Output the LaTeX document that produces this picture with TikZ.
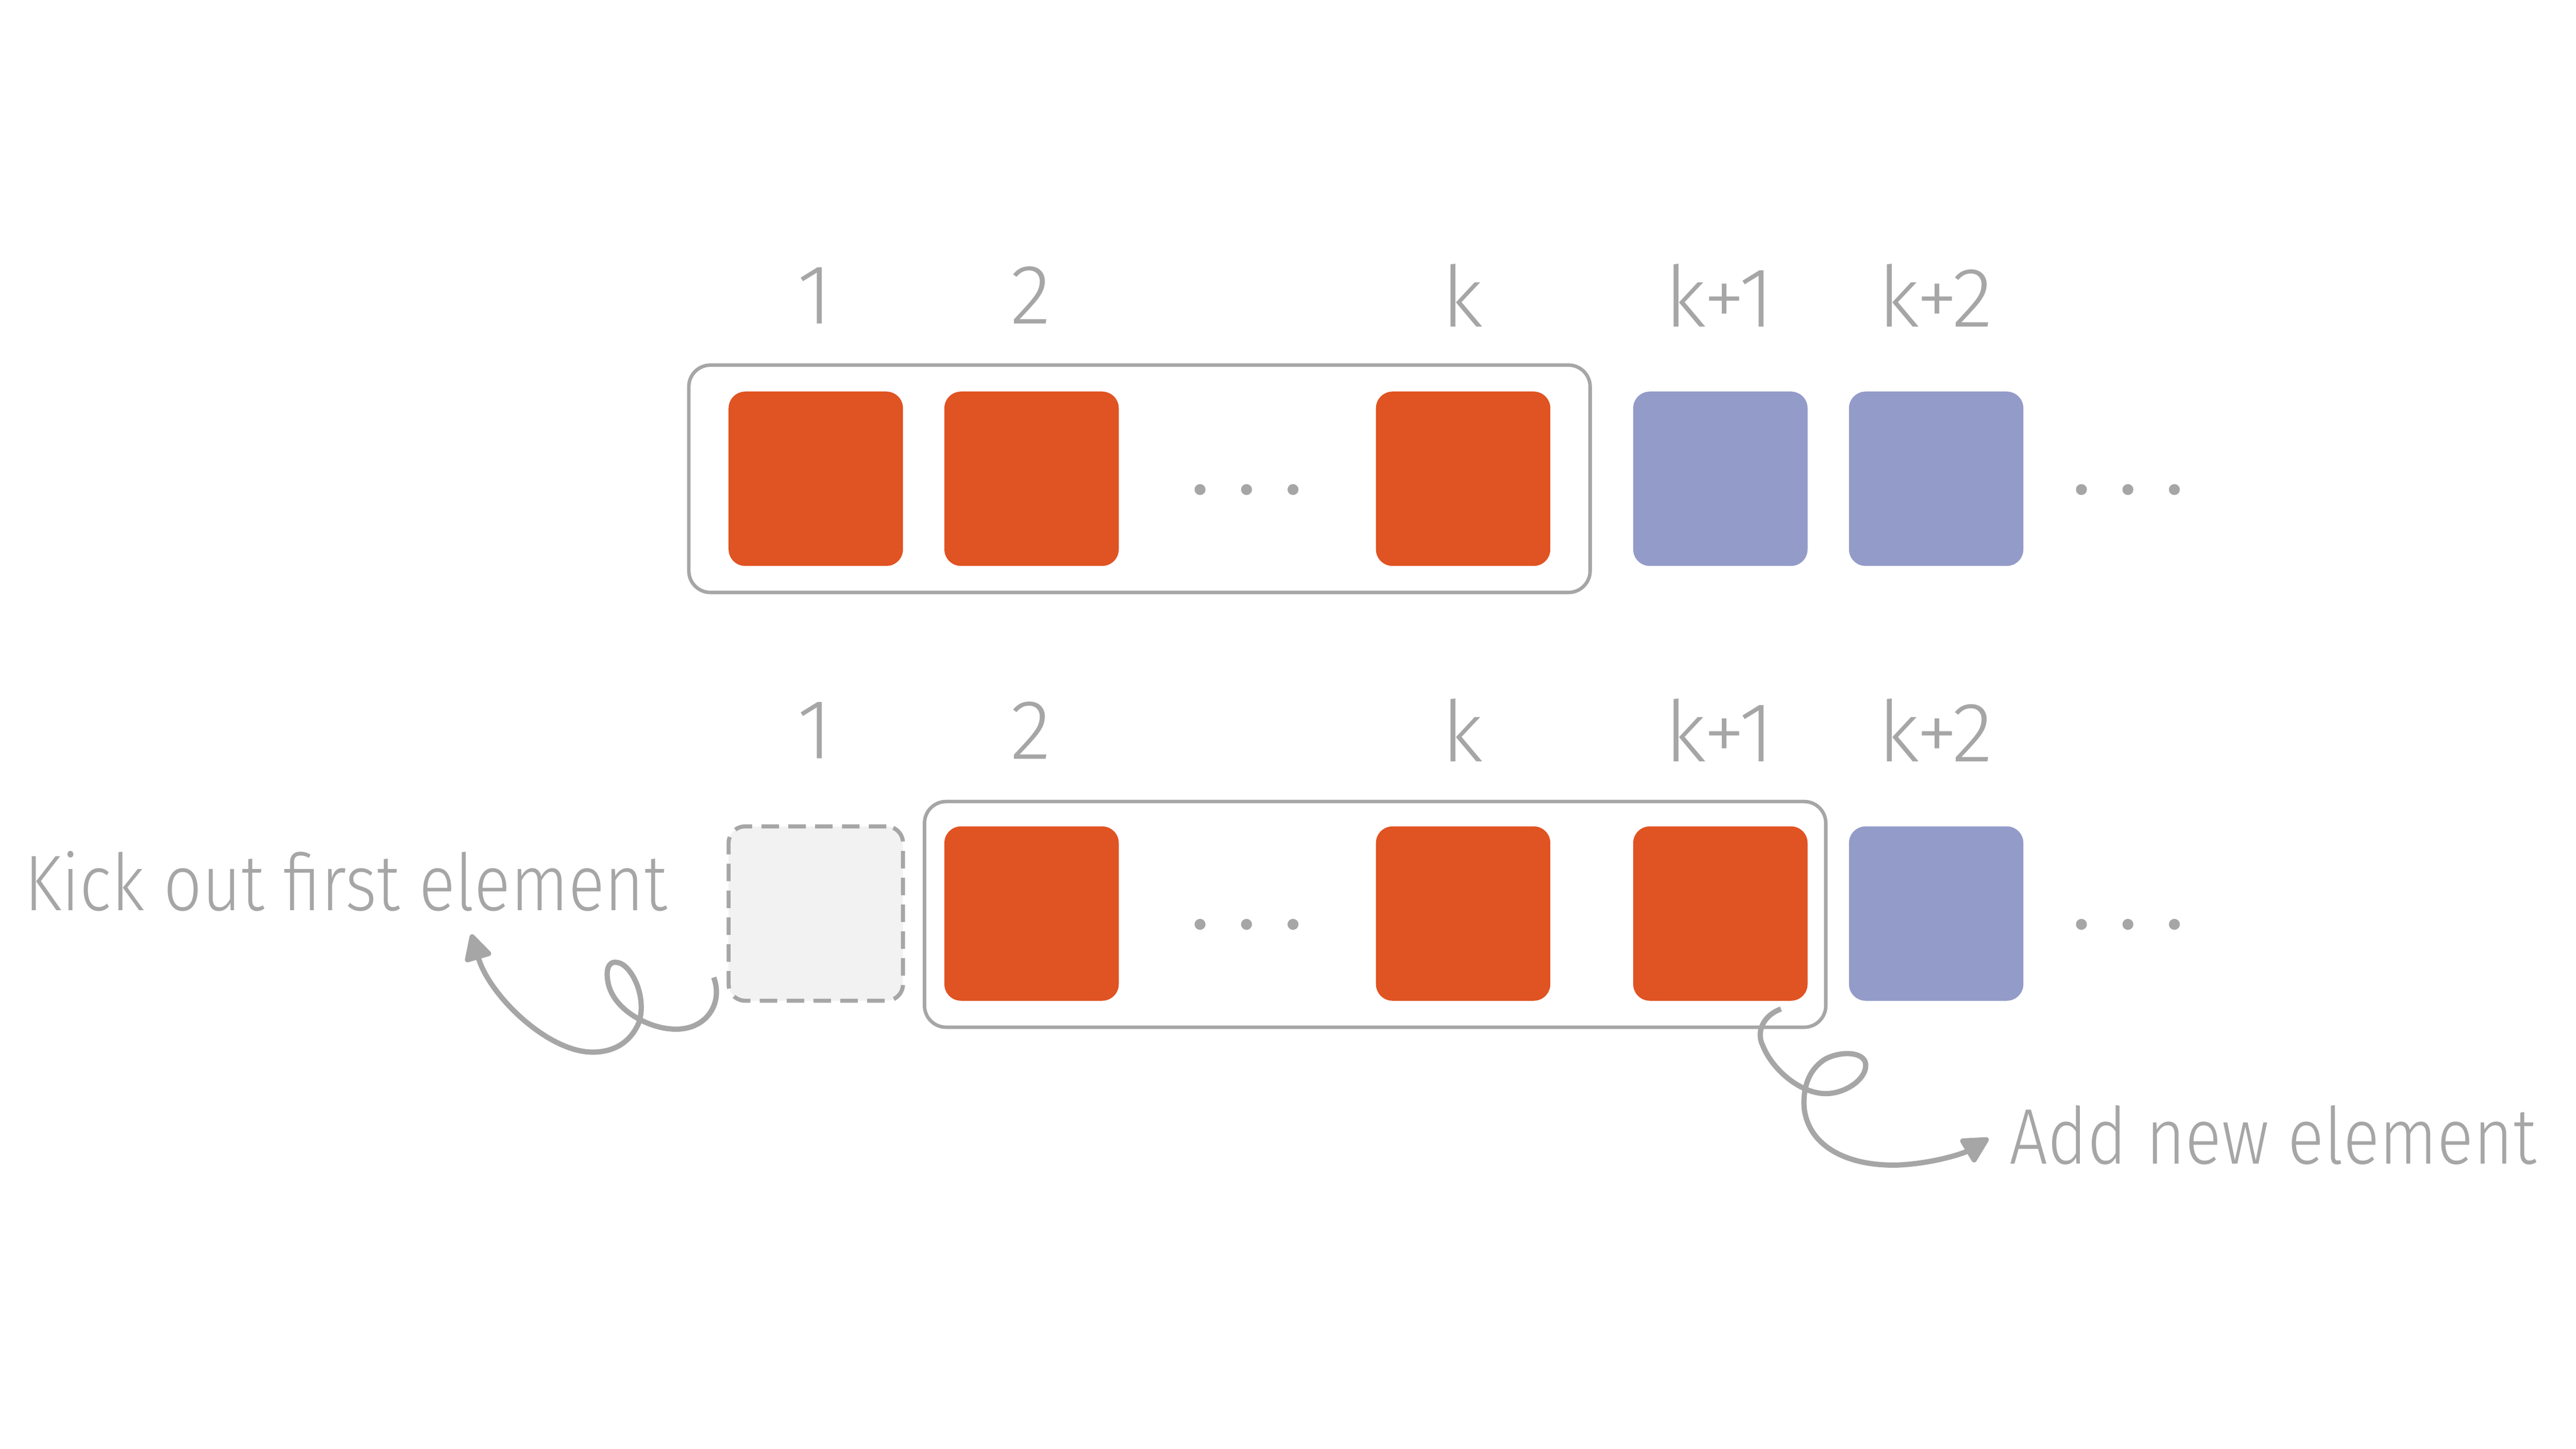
\documentclass[tikz,border=0pt]{standalone}
\usepackage{fontspec}
\setmainfont{Fira Sans Light}
\usetikzlibrary{arrows.meta}
\definecolor{org}{HTML}{E05322}
\definecolor{blu}{HTML}{939BC9}
\definecolor{gr}{HTML}{A6A6A6}
\definecolor{ghost}{HTML}{F2F2F2}
\begin{document}
\begin{tikzpicture}[x=0.01cm,y=-0.01cm,
  sq/.style={minimum width=1.05cm,minimum height=1.05cm,rounded corners=0.1cm,inner sep=0pt},
  os/.style={sq,fill=org},
  bs/.style={sq,fill=blu},
  gs/.style={sq,fill=ghost,draw=gr,dashed,line width=0.7pt,dash pattern=on 3pt off 1.6pt},
  lab/.style={text=gr,font=\fontsize{14.5}{15}\selectfont},
  txt/.style={text=gr,font=\fontsize{13.5}{14}\selectfont,inner sep=0pt,xscale=0.86},
  frm/.style={draw=gr,line width=0.6pt,rounded corners=0.13cm},
  dot/.style={fill=gr,draw=none},
  curl/.style={draw=gr,line width=0.9pt,-{Triangle[length=5pt,width=5pt,round]}}]
\useasboundingbox (0,0) rectangle (1552,873);
% top row
\draw[frm] (415,220) rectangle (958,357);
\node[os] (a1) at (491.5,288.5) {};
\node[os] (a2) at (621.5,288.5) {};
\node[os] (ak) at (881.5,288.5) {};
\node[bs] (a3) at (1036.5,288.5) {};
\node[bs] (a4) at (1166.5,288.5) {};
\foreach \x in {723,751,779,1254,1282,1310} \fill[dot] (\x,295) circle (3.3);
\node[lab] (l1) at (491,178) {1};
\node[lab] (l2) at (621,178) {2};
\node[lab] (lk) at (881,178) {k};
\node[lab] (l3) at (1036,178) {k+1};
\node[lab] (l4) at (1166,178) {k+2};
% bottom row
\draw[frm] (557,483) rectangle (1100,619);
\node[gs] (b1) at (491.5,550.5) {};
\node[os] (b2) at (621.5,550.5) {};
\node[os] (bk) at (881.5,550.5) {};
\node[os] (b3) at (1036.5,550.5) {};
\node[bs] (b4) at (1166.5,550.5) {};
\foreach \x in {723,751,779,1254,1282,1310} \fill[dot] (\x,557) circle (3.3);
\node[lab] (m1) at (491,440) {1};
\node[lab] (m2) at (621,440) {2};
\node[lab] (mk) at (881,440) {k};
\node[lab] (m3) at (1036,440) {k+1};
\node[lab] (m4) at (1166,440) {k+2};
\node[txt,anchor=west] (kick) at (14,531) {Kick out first element};
\node[txt,anchor=west] (add) at (1210,684) {Add new element};
\coordinate (ks) at (430,589);
\coordinate (kt) at (284,563);
\coordinate (as) at (1073,608);
\coordinate (at) at (1198,686);
\draw[curl] (ks) .. controls (436,605) and (425,622) .. (404,620)
  .. controls (390,619) and (368,608) .. (366,590)
  .. controls (365,582) and (368,579) .. (372,580)
  .. controls (380,581) and (390,600) .. (385,616)
  .. controls (380,628) and (370,634) .. (357,634)
  .. controls (330,634) and (295,600) .. (kt);
\draw[curl] (as) .. controls (1062,612) and (1058,622) .. (1062,630)
  .. controls (1068,645) and (1085,659) .. (1100,659)
  .. controls (1112,659) and (1125,650) .. (1124,641)
  .. controls (1123,634) and (1110,633) .. (1100,638)
  .. controls (1090,644) and (1086,655) .. (1087,668)
  .. controls (1090,692) and (1115,703) .. (1144,702)
  .. controls (1165,701) and (1183,695) .. (at);
\end{tikzpicture}
\end{document}
